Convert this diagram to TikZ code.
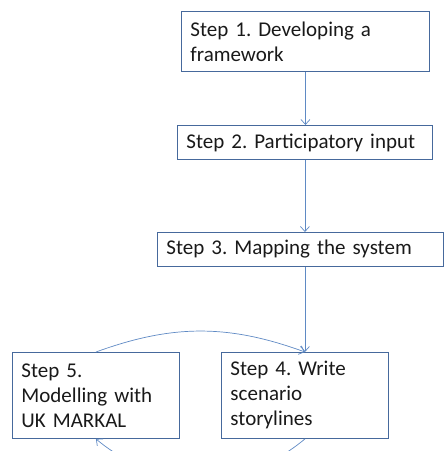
\documentclass[tikz,border=0pt]{standalone}
\usepackage{fontspec}
\setmainfont{Carlito}
\usetikzlibrary{arrows.meta}
\definecolor{boxline}{HTML}{46699C}
\definecolor{arrline}{HTML}{5F8AC4}
\frenchspacing
\begin{document}
\begin{tikzpicture}[x=1pt,y=1pt]
      \useasboundingbox (0,0) rectangle (444,451);

      \begin{scope}[every node/.style={rectangle,draw=boxline,line width=0.9pt,
          anchor=north west,align=left,inner xsep=9pt,inner ysep=0pt,
          font=\fontsize{21}{25}\selectfont,text=black!90}]
        \node[minimum width=248pt,minimum height=60pt,text width=230pt] (1) at (181,440) {Step 1. Developing a\\framework};
        \node[minimum width=255pt,minimum height=34pt,text width=237pt] (2) at (177,326) {Step 2. Participatory input};
        \node[minimum width=286pt,minimum height=34pt,text width=268pt] (3) at (157,219) {Step 3. Mapping the system};
        \node[minimum width=167pt,minimum height=86pt,text width=149pt] (4) at (221,99) {Step 4. Write\\scenario\\storylines};
        \node[minimum width=167pt,minimum height=86pt,text width=149pt] (5) at (12,99) {Step 5.\\Modelling with\\UK MARKAL};
      \end{scope}


      \begin{scope}[every edge/.style={draw=arrline,line width=0.7pt,
          -{Straight Barb[length=5pt,width=9pt]}}]
        \path (1.south)  edge (1.south |- 2.north);
        \path (2.south -| 4.north)  edge (4.north |- 3.north);
        \path (3.south -| 4.north)  edge (4.north);
        \path (5.north)  edge[bend left=20] (4.north);
        \path (4.south)  edge[bend left=40] (5.south);
      \end{scope}

    \end{tikzpicture}
\end{document}
